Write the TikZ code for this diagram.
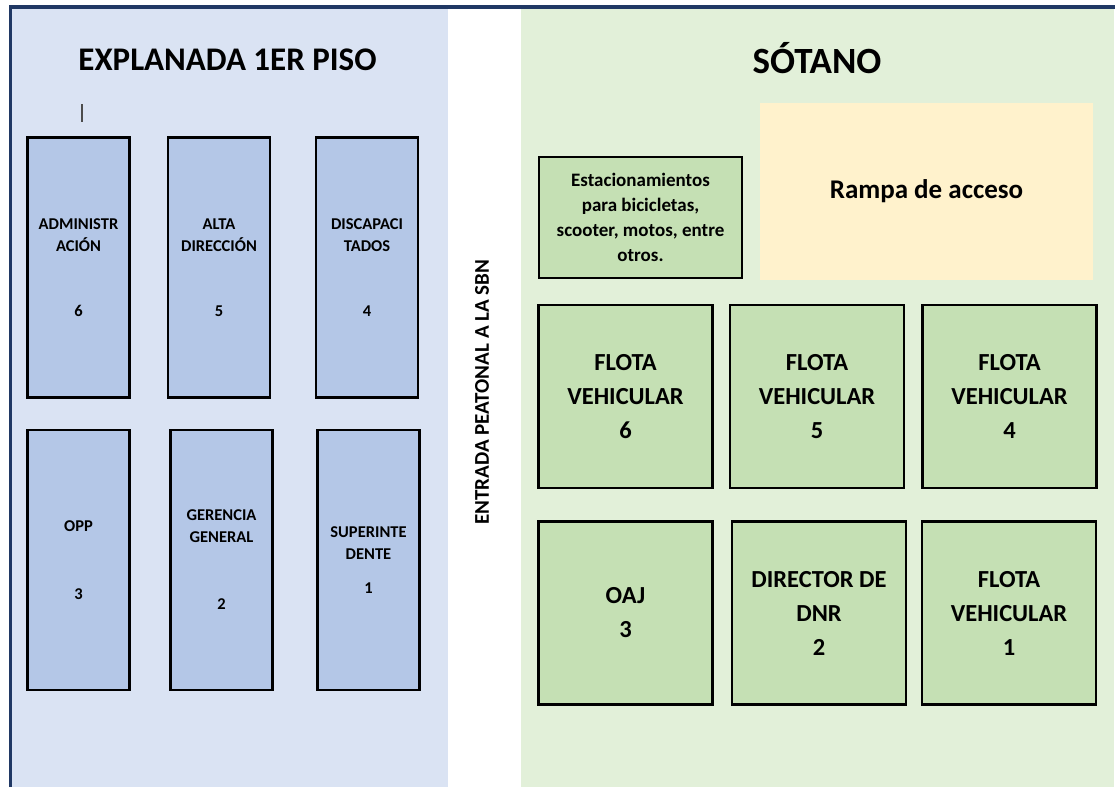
\documentclass[tikz,border=0pt]{standalone}
\usepackage{fontspec}
\setmainfont{Carlito}
\usepackage{tikz}
\usetikzlibrary{positioning}
\usepackage{xcolor}
\definecolor{PanelBlue}{HTML}{DAE3F3}
\definecolor{RoomBlue}{HTML}{B4C7E7}
\definecolor{PanelGreen}{HTML}{E2F0D9}
\definecolor{RoomGreen}{HTML}{C5E0B4}
\definecolor{RampCream}{HTML}{FFF2CC}
\definecolor{FrameNavy}{HTML}{203864}
\tikzset{%
  office/.style={%
    rectangle,
    minimum width=102pt,
    minimum height=260pt,
    inner sep=0pt,
    outer sep=0pt,
    line width=2.2pt,
    draw=black,
    fill=RoomBlue,
    font={\fontsize{16.5}{22}\selectfont\bfseries},
    align=center%
  },
  parking/.style={%
    rectangle,
    minimum width=174pt,
    minimum height=183pt,
    inner sep=0pt,
    outer sep=0pt,
    line width=2.2pt,
    draw=black,
    fill=RoomGreen,
    font={\fontsize{24.5}{34}\selectfont\bfseries},
    align=center%
  },
  bikerack/.style={%
    parking,
    minimum width=203pt,
    minimum height=121pt,
    font={\fontsize{19}{25}\selectfont\bfseries}%
  },
  ramp/.style={%
    rectangle,
    minimum width=333pt,
    minimum height=177pt,
    fill=RampCream,
    font={\fontsize{27}{32}\selectfont\bfseries}%
  },
  heading/.style={%
    anchor=base,
    inner sep=0pt,
    font={\fontsize{33}{40}\selectfont\bfseries}%
  },
  walkway/.style={%
    rotate=90,
    inner sep=0pt,
    font={\fontsize{21}{25}\selectfont\bfseries}%
  }
}

\begin{document}
\begin{tikzpicture}[x=1pt, y=-1pt]
    \useasboundingbox (0,0) rectangle (1115,787);
    \fill [PanelBlue] (12,8) rectangle (448,787);
    \fill [PanelGreen] (521,8) rectangle (1114,787);
    \draw [FrameNavy, line width=3.5pt] (10.5,787) |- (1115,7);

    % explanada
    \node [heading] (Explanada) at (227.5,70.5) {EXPLANADA 1ER PISO};
    \draw [black!70, line width=1.5pt] (82,104) -- (82,122);
    \node [office] (Administracion) at (78.5,267.5) {ADMINISTR\\ACIÓN\\[43pt]6};
    \node [office, right=38.5pt of Administracion] (AltaDireccion) {ALTA\\DIRECCIÓN\\[43pt]5};
    \node [office, right=46pt of AltaDireccion] (Discapacitados) {DISCAPACI\\TADOS\\[43pt]4};
    \node [office, below=32.5pt of Administracion] (Opp) {OPP\\[46pt]3};
    \node [office, right=41pt of Opp] (GerenciaGeneral) {GERENCIA\\GENERAL\\[45pt]2};
    \node [office, right=45pt of GerenciaGeneral] (Superintendente) {SUPERINTE\\DENTE\\[12pt]1};

    \node [walkway] (Entrada) at (482,392) {ENTRADA PEATONAL A LA SBN};

    % sotano
    \node [heading, font={\fontsize{37}{44}\selectfont\bfseries}] (Sotano) at (817,73) {SÓTANO};
    \node [bikerack] (Bicicletas) at (640.5,217.5)
      {Estacionamientos\\para bicicletas,\\scooter, motos, entre\\otros.};
    \node [ramp] (Rampa) at (926.5,191.5) {Rampa de acceso};
    \node [parking] (FlotaSeis) at (625.5,396.5) {FLOTA\\VEHICULAR\\6};
    \node [parking, right=17.5pt of FlotaSeis] (FlotaCinco) {FLOTA\\VEHICULAR\\5};
    \node [parking, right=18.5pt of FlotaCinco] (FlotaCuatro) {FLOTA\\VEHICULAR\\4};
    \node [parking, below=33.5pt of FlotaSeis] (Oaj) {OAJ\\3};
    \node [parking, right=19.5pt of Oaj] (DirectorDnr) {DIRECTOR DE\\DNR\\2};
    \node [parking, right=16pt of DirectorDnr] (FlotaUno) {FLOTA\\VEHICULAR\\1};
\end{tikzpicture}
\end{document}
